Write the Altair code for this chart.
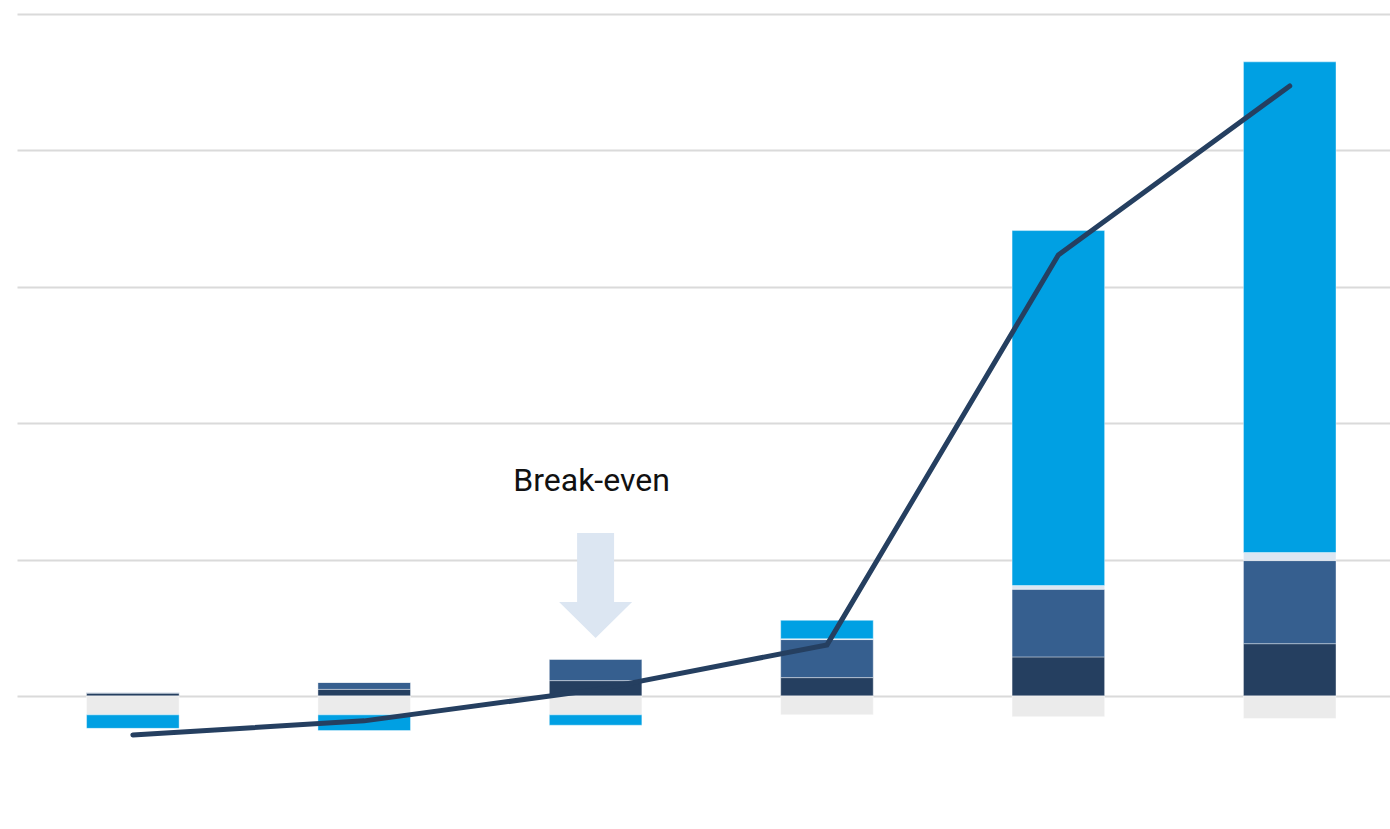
import altair as alt
import pandas as pd

# ---- data ----
categories = ["Year 1", "Year 2", "Year 3", "Year 4", "Year 5", "Year 6"]
series_names = ["Base", "Growth", "Costs", "Other", "Expansion"]
series_colors = ["#253F60", "#365F8F", "#EBEBEB", "#DCE6F2", "#00A0E3"]

base      = [0.02, 0.048, 0.112, 0.134, 0.286, 0.383]
growth    = [0.004, 0.051, 0.157, 0.279, 0.496, 0.609]
costs     = [-0.139, -0.139, -0.139, -0.139, -0.152, -0.166]
other     = [0.0, 0.0, 0.0, 0.006, 0.027, 0.059]
expansion = [-0.099, -0.115, -0.076, 0.135, 2.603, 3.598]
net       = [-0.286, -0.183, 0.044, 0.374, 3.233, 4.472]

annotation_label = "Break-even"
annotation_category = "Year 3"
annotation_text_y = 1.576
annotation_arrow_y = 0.81

series_values = [base, growth, costs, other, expansion]
rows = []
for order, (name, vals) in enumerate(zip(series_names, series_values)):
    for cat, v in zip(categories, vals):
        rows.append({"category": cat, "series": name, "value": v, "order": order})
bars_df = pd.DataFrame(rows)
line_df = pd.DataFrame({"category": categories, "net": net})
ann_df = pd.DataFrame({"category": [annotation_category], "ty": [annotation_text_y],
                       "ay": [annotation_arrow_y], "label": [annotation_label]})

x_scale = alt.Scale(domain=categories, paddingInner=0.6, paddingOuter=0.267, align=0.563)
y_scale = alt.Scale(domain=[-0.8, 5], nice=False, zero=False)

x_enc = alt.X("category:N", scale=x_scale, sort=categories, axis=None)

bars = alt.Chart(bars_df).mark_bar(stroke="#ffffff", strokeWidth=1, strokeOpacity=0.4).encode(
    x=x_enc,
    y=alt.Y("value:Q", stack="zero", scale=y_scale,
            axis=alt.Axis(values=[0, 1, 2, 3, 4, 5], labels=False, ticks=False, domain=False,
                          title=None, grid=True, gridColor="#DADADA", gridWidth=2)),
    color=alt.Color("series:N", scale=alt.Scale(domain=series_names, range=series_colors), legend=None),
    order=alt.Order("order:Q", sort="ascending"),
)

line = alt.Chart(line_df).mark_line(color="#253F60", strokeWidth=5, strokeCap="round",
                                    strokeJoin="miter").encode(
    x=x_enc,
    y=alt.Y("net:Q", scale=y_scale),
)

arrow_path = "M-0.352,-1 L0.352,-1 L0.352,0.314 L0.695,0.314 L0,1 L-0.695,0.314 L-0.352,0.314 Z"
arrow = alt.Chart(ann_df).mark_point(shape=arrow_path, filled=True, color="#DCE6F2",
                                     opacity=1, size=11025, strokeWidth=0).encode(
    x=x_enc,
    y=alt.Y("ay:Q", scale=y_scale),
)

text = alt.Chart(ann_df).mark_text(font="Roboto", fontSize=32, color="#111111",
                                   baseline="middle", align="center", dx=-4).encode(
    x=x_enc,
    y=alt.Y("ty:Q", scale=y_scale),
    text="label:N",
)

chart = alt.layer(bars, line, arrow, text).properties(
    width=1373, height=791,
    padding={"left": 17, "top": 14, "right": 0, "bottom": 0},
    autosize=alt.AutoSizeParams(type="none"),
    background="#ffffff",
).configure_view(stroke="transparent", strokeWidth=0)

chart.save("out.html", embed_options={"renderer": "svg", "actions": False})
